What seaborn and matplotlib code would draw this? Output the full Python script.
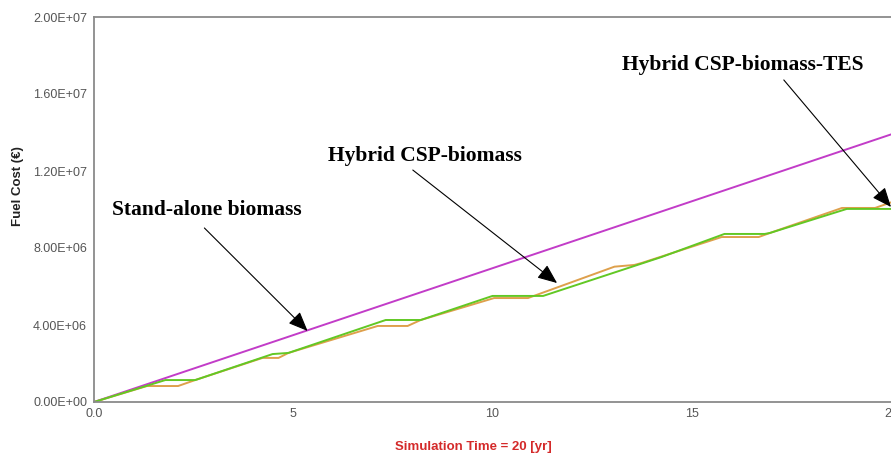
import matplotlib
matplotlib.use("Agg")
import matplotlib.pyplot as plt
import matplotlib.ticker as mticker
import seaborn as sns
import pandas as pd

# ---- data (years, fuel cost in EUR) ----
time_standalone = [0.0, 20.0]
cost_standalone = [0.0, 13.9e6]

time_hybrid = [0.0, 1.33, 2.11, 2.54, 4.23, 4.63, 4.88, 7.12, 7.87, 8.20, 10.04,
               10.89, 13.06, 13.56, 13.74, 15.75, 16.68, 16.96, 18.77, 19.60, 20.03]
cost_hybrid = [0.0, 0.83e6, 0.83e6, 1.14e6, 2.29e6, 2.29e6, 2.55e6, 3.95e6, 3.95e6,
               4.26e6, 5.40e6, 5.40e6, 7.03e6, 7.12e6, 7.22e6, 8.57e6, 8.57e6,
               8.78e6, 10.08e6, 10.08e6, 10.39e6]

time_tes = [0.0, 1.79, 2.54, 4.48, 4.88, 7.32, 8.20, 10.0, 11.27, 14.24, 15.82,
            16.83, 16.96, 18.89, 20.03]
cost_tes = [0.0, 1.14e6, 1.14e6, 2.49e6, 2.55e6, 4.26e6, 4.26e6, 5.51e6, 5.51e6,
            7.53e6, 8.73e6, 8.73e6, 8.78e6, 10.03e6, 10.03e6]

series_names = ["Stand-alone biomass", "Hybrid CSP-biomass", "Hybrid CSP-biomass-TES"]
series_colors = ["#c23cc8", "#dea04c", "#62c824"]

x_ticks = [0, 5, 10, 15, 20]
x_tick_labels = ["0.0", "5", "10", "15", "20"]
y_ticks = [0, 4e6, 8e6, 12e6, 16e6, 20e6]
y_tick_labels = ["0.00E+00", "4.00E+06", "8.00E+06", "1.20E+07", "1.60E+07", "2.00E+07"]

frames = []
for name, t, c in [(series_names[0], time_standalone, cost_standalone),
                   (series_names[1], time_hybrid, cost_hybrid),
                   (series_names[2], time_tes, cost_tes)]:
    frames.append(pd.DataFrame({"time": t, "cost": c, "series": name}))
df = pd.concat(frames, ignore_index=True)

sns.set_theme(style="white")
plt.rcParams["font.family"] = ["Liberation Sans", "DejaVu Sans"]

W, H = 891, 458
fig = plt.figure(figsize=(W / 100, H / 100), dpi=100)
ax = fig.add_axes([94 / W, 56 / H, (W - 94) / W, (402 - 17) / H])

sns.lineplot(data=df, x="time", y="cost", hue="series", hue_order=series_names,
             palette=series_colors, linewidth=1.4, ax=ax, legend=False,
             estimator=None, sort=False)

ax.set_xlim(0, 20)
ax.set_ylim(0, 2e7)
ax.set_xticks(x_ticks)
ax.set_xticklabels(x_tick_labels)
ax.set_yticks(y_ticks)
ax.set_yticklabels(y_tick_labels)
ax.xaxis.set_minor_locator(mticker.MultipleLocator(5 / 12))
ax.yaxis.set_minor_locator(mticker.MultipleLocator(1e6))
ax.tick_params(which="both", direction="in", length=3, width=0.8, color="#777777",
               labelsize=9, labelcolor="#555555")
ax.tick_params(axis="y", pad=5)
ax.tick_params(axis="x", pad=4)
for lbl in ax.get_xticklabels():
    lbl.set_clip_on(False)

for side in ["left", "bottom", "top"]:
    ax.spines[side].set_color("#8a8a8a")
    ax.spines[side].set_linewidth(1.3)
ax.spines["right"].set_visible(False)
ax.set_xlabel("")
ax.set_ylabel("")

fig.text(18 / W, 1 - 186 / H, "Fuel Cost (€)", rotation=90, ha="center", va="center",
         fontsize=9.5, fontweight="bold", color="#222222")
fig.text(473 / W, 1 - 447 / H, "Simulation Time = 20 [yr]", ha="center", va="center",
         fontsize=9.5, fontweight="bold", color="#d42a2a")

arrow = dict(arrowstyle="-|>,head_length=0.6,head_width=0.25", color="black",
             lw=0.8, mutation_scale=20, shrinkA=0, shrinkB=0)
tfont = dict(family=["Liberation Serif", "DejaVu Serif"], fontsize=15.5,
             fontweight="bold", color="black")

ax.annotate("", xy=(5.36, 3.69e6), xytext=(2.77, 9.04e6), arrowprops=arrow,
            annotation_clip=False)
ax.text(0.45, 9.97e6, series_names[0], ha="left", va="center", **tfont)

ax.annotate("", xy=(11.62, 6.18e6), xytext=(8.0, 12.05e6), arrowprops=arrow,
            annotation_clip=False)
ax.text(5.86, 12.78e6, series_names[1], ha="left", va="center", **tfont)

ax.annotate("", xy=(20.0, 10.13e6), xytext=(17.31, 16.73e6), arrowprops=arrow,
            annotation_clip=False)
ax.text(13.26, 17.5e6, series_names[2], ha="left", va="center", **tfont)

fig.savefig("out.png", dpi=100)
